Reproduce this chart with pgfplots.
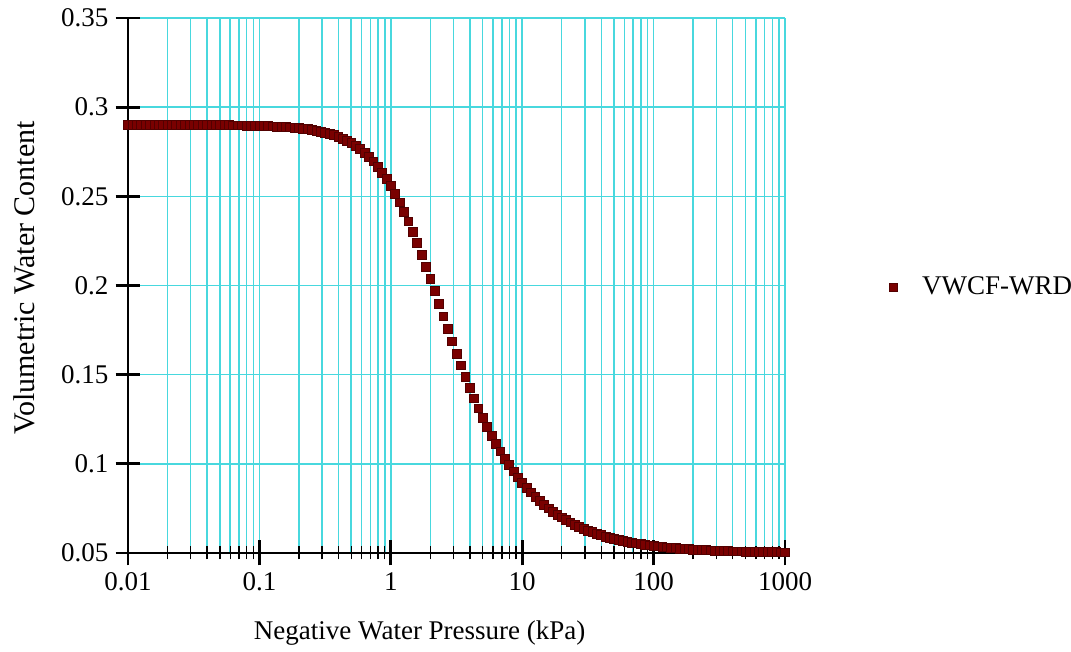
\documentclass[border=0pt]{standalone}
\usepackage{fontspec}
\setmainfont{Liberation Serif}
\usepackage{pgfplots}
\usepackage{pgfplotstable}
\pgfplotsset{compat=1.18}
\definecolor{gridcyan}{HTML}{48D8DE}
\definecolor{markred}{HTML}{7A0000}
\definecolor{markedge}{HTML}{520000}

% suction (kPa) vs volumetric water content
\pgfplotstableread{
x y
1.0000e-2 0.2900
1.0798e-2 0.2900
1.1659e-2 0.2900
1.2589e-2 0.2900
1.3594e-2 0.2900
1.4678e-2 0.2900
1.5849e-2 0.2900
1.7113e-2 0.2900
1.8478e-2 0.2900
1.9953e-2 0.2900
2.1544e-2 0.2900
2.3263e-2 0.2900
2.5119e-2 0.2900
2.7123e-2 0.2900
2.9286e-2 0.2900
3.1623e-2 0.2900
3.4145e-2 0.2900
3.6869e-2 0.2899
3.9811e-2 0.2899
4.2987e-2 0.2899
4.6416e-2 0.2899
5.0119e-2 0.2899
5.4117e-2 0.2899
5.8434e-2 0.2899
6.3096e-2 0.2898
6.8129e-2 0.2898
7.3564e-2 0.2898
7.9433e-2 0.2897
8.5770e-2 0.2897
9.2612e-2 0.2896
1.0000e-1 0.2896
1.0798e-1 0.2895
1.1659e-1 0.2894
1.2589e-1 0.2893
1.3594e-1 0.2892
1.4678e-1 0.2891
1.5849e-1 0.2889
1.7113e-1 0.2887
1.8478e-1 0.2885
1.9953e-1 0.2883
2.1544e-1 0.2880
2.3263e-1 0.2877
2.5119e-1 0.2873
2.7123e-1 0.2869
2.9286e-1 0.2864
3.1623e-1 0.2858
3.4145e-1 0.2851
3.6869e-1 0.2843
3.9811e-1 0.2834
4.2987e-1 0.2824
4.6416e-1 0.2812
5.0119e-1 0.2798
5.4117e-1 0.2783
5.8434e-1 0.2765
6.3096e-1 0.2745
6.8129e-1 0.2722
7.3564e-1 0.2696
7.9433e-1 0.2667
8.5770e-1 0.2634
9.2612e-1 0.2598
1.0000e0 0.2558
1.0798e0 0.2514
1.1659e0 0.2467
1.2589e0 0.2415
1.3594e0 0.2360
1.4678e0 0.2301
1.5849e0 0.2239
1.7113e0 0.2174
1.8478e0 0.2107
1.9953e0 0.2039
2.1544e0 0.1969
2.3263e0 0.1898
2.5119e0 0.1827
2.7123e0 0.1757
2.9286e0 0.1687
3.1623e0 0.1619
3.4145e0 0.1553
3.6869e0 0.1489
3.9811e0 0.1427
4.2987e0 0.1368
4.6416e0 0.1311
5.0119e0 0.1257
5.4117e0 0.1206
5.8434e0 0.1158
6.3096e0 0.1113
6.8129e0 0.1070
7.3564e0 0.1030
7.9433e0 0.0993
8.5770e0 0.0958
9.2612e0 0.0925
1.0000e1 0.0895
1.0798e1 0.0866
1.1659e1 0.0840
1.2589e1 0.0815
1.3594e1 0.0792
1.4678e1 0.0771
1.5849e1 0.0751
1.7113e1 0.0733
1.8478e1 0.0716
1.9953e1 0.0700
2.1544e1 0.0685
2.3263e1 0.0672
2.5119e1 0.0659
2.7123e1 0.0647
2.9286e1 0.0636
3.1623e1 0.0626
3.4145e1 0.0617
3.6869e1 0.0608
3.9811e1 0.0600
4.2987e1 0.0593
4.6416e1 0.0586
5.0119e1 0.0580
5.4117e1 0.0574
5.8434e1 0.0568
6.3096e1 0.0563
6.8129e1 0.0559
7.3564e1 0.0554
7.9433e1 0.0550
8.5770e1 0.0547
9.2612e1 0.0543
1.0000e2 0.0540
1.0798e2 0.0537
1.1659e2 0.0534
1.2589e2 0.0532
1.3594e2 0.0529
1.4678e2 0.0527
1.5849e2 0.0525
1.7113e2 0.0523
1.8478e2 0.0522
1.9953e2 0.0520
2.1544e2 0.0519
2.3263e2 0.0517
2.5119e2 0.0516
2.7123e2 0.0515
2.9286e2 0.0514
3.1623e2 0.0513
3.4145e2 0.0512
3.6869e2 0.0511
3.9811e2 0.0510
4.2987e2 0.0509
4.6416e2 0.0509
5.0119e2 0.0508
5.4117e2 0.0507
5.8434e2 0.0507
6.3096e2 0.0506
6.8129e2 0.0506
7.3564e2 0.0505
7.9433e2 0.0505
8.5770e2 0.0505
9.2612e2 0.0504
1.0000e3 0.0504
}\swcc

\begin{document}
\begin{tikzpicture}
\begin{axis}[
    scale only axis,
    width=328.5pt, height=267.5pt,
    xmode=log,
    xmin=0.01, xmax=1000,
    ymin=0.05, ymax=0.35,
    clip=false,
    axis x line*=bottom, axis y line*=left,
    axis line style={black, line width=1.3pt},
    xtick={0.01,0.1,1,10,100,1000},
    xticklabels={0.01,0.1,1,10,100,1000},
    minor xtick={0.02,0.03,0.04,0.05,0.06,0.07,0.08,0.09,
                 0.2,0.3,0.4,0.5,0.6,0.7,0.8,0.9,
                 2,3,4,5,6,7,8,9,
                 20,30,40,50,60,70,80,90,
                 200,300,400,500,600,700,800,900},
    ytick={0.05,0.1,0.15,0.2,0.25,0.3,0.35},
    yticklabels={0.05,0.1,0.15,0.2,0.25,0.3,0.35},
    tick align=center,
    major tick length=12.5pt,
    minor tick length=6.5pt,
    every major tick/.append style={black, line width=1.4pt},
    every minor tick/.append style={black, line width=0.7pt},
    xmajorgrids, xminorgrids, ymajorgrids,
    major grid style={gridcyan, line width=0.75pt},
    minor grid style={gridcyan, line width=0.75pt},
    tick label style={font=\fontsize{13.5}{16}\selectfont},
    /pgf/number format/assume math mode=true,
    xlabel={Negative Water Pressure (kPa)},
    ylabel={Volumetric Water Content},
    every axis x label/.style={at={([yshift=-40pt]axis description cs:0.444,0)}, anchor=center, font=\fontsize{13.5}{16}\selectfont},
    every axis y label/.style={at={([xshift=-52pt]axis description cs:0,0.514)}, rotate=90, anchor=center, font=\fontsize{15}{18}\selectfont},
    legend style={at={(1.158,0.497)}, anchor=west, draw=none, fill=none, inner sep=0pt,
                  font=\fontsize{13.5}{16}\selectfont},
    legend image code/.code={
        \draw[mark=square*, mark size=2pt, mark options={fill=markred, draw=markedge, line width=0.3pt}] plot coordinates {(0pt,0pt)};
        \path[draw=none] (-2pt,0pt) -- (12.5pt,0pt);
    },
]
\addplot[only marks, mark=square*, mark size=2.2pt,
         mark options={fill=markred, draw=markedge, line width=0.3pt}] table {\swcc};
\addlegendentry{VWCF-WRD}
\end{axis}
\pgfresetboundingbox
\path ([shift={(-64pt,-49.5pt)}]current axis.south west) rectangle ([shift={(143pt,9pt)}]current axis.north east);
\end{tikzpicture}
\end{document}
